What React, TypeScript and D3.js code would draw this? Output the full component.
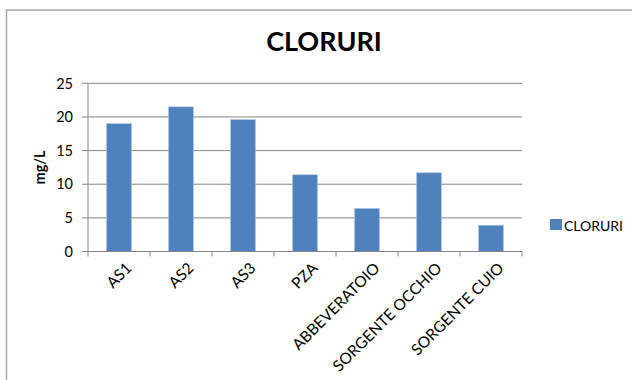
import React from "react";
import * as d3 from "d3";

const categories = ["AS1", "AS2", "AS3", "PZA", "ABBEVERATOIO", "SORGENTE OCCHIO", "SORGENTE CUIO"];
const cloruri = [19, 21.5, 19.6, 11.4, 6.4, 11.7, 3.9];
const yTicks = [0, 5, 10, 15, 20, 25];
const seriesName = "CLORURI";

const W = 632;
const H = 380;
const plot = { left: 88, right: 522, top: 83.3, bottom: 251.5 };
const FONT = "Lato, 'Open Sans', 'Liberation Sans', sans-serif";
const BAR = "#4f81bd";
const GRID = "#868686";

export default function App() {
  const x = d3
    .scaleBand<string>()
    .domain(categories)
    .range([plot.left, plot.right])
    .paddingInner(0.6)
    .paddingOuter(0.3);
  const band = d3.scaleBand<string>().domain(categories).range([plot.left, plot.right]);
  const y = d3.scaleLinear().domain([0, 25]).range([plot.bottom, plot.top]);

  return (
    <svg
      width={W}
      height={H}
      style={{ position: "absolute", left: 0, top: 0, background: "#fff" }}
      fontFamily={FONT}
    >
      <rect x={6.5} y={10} width={W} height={H} fill="#fff" stroke="#a6a6a6" strokeWidth={1.5} />

      <text x={324} y={50.5} textAnchor="middle" fontSize={27} fontWeight="bold" fill="#000">
        {seriesName}
      </text>

      {yTicks.map((t) => (
        <g key={t}>
          {t > 0 && (
            <line x1={plot.left} x2={plot.right} y1={y(t)} y2={y(t)} stroke={GRID} strokeWidth={1} />
          )}
          <line x1={plot.left - 6} x2={plot.left} y1={y(t)} y2={y(t)} stroke={GRID} strokeWidth={1} />
          <text x={73} y={y(t)} dy="0.36em" textAnchor="end" fontSize={14.5} fill="#000">
            {t}
          </text>
        </g>
      ))}

      <text
        transform={`translate(45,${(plot.top + plot.bottom) / 2}) rotate(-90)`}
        textAnchor="middle"
        fontSize={14.5}
        fontWeight="bold"
        fill="#000"
      >
        mg/L
      </text>

      {categories.map((c, i) => (
        <rect
          key={c}
          x={x(c)}
          y={y(cloruri[i])}
          width={x.bandwidth()}
          height={y(0) - y(cloruri[i])}
          fill={BAR}
          stroke="#a9c4e6"
          strokeWidth={0.6}
        />
      ))}

      <line x1={plot.left} x2={plot.left} y1={plot.top} y2={plot.bottom} stroke={GRID} strokeWidth={1} />
      <line x1={plot.left} x2={plot.right} y1={plot.bottom} y2={plot.bottom} stroke={GRID} strokeWidth={1} />
      {d3.range(categories.length + 1).map((i) => {
        const tx = plot.left + i * band.bandwidth();
        return <line key={i} x1={tx} x2={tx} y1={plot.bottom} y2={plot.bottom + 5} stroke={GRID} strokeWidth={1} />;
      })}

      {categories.map((c) => {
        const cx = (band(c) as number) + band.bandwidth() / 2 + 6;
        return (
          <text
            key={c}
            transform={`translate(${cx},${plot.bottom + 10}) rotate(-45)`}
            textAnchor="end"
            dy="0.7em"
            fontSize={15.5}
            fill="#000"
          >
            {c}
          </text>
        );
      })}

      <rect x={550} y={219} width={12} height={11} fill={BAR} />
      <text x={564} y={230.5} fontSize={14} fill="#000">
        {seriesName}
      </text>
    </svg>
  );
}
